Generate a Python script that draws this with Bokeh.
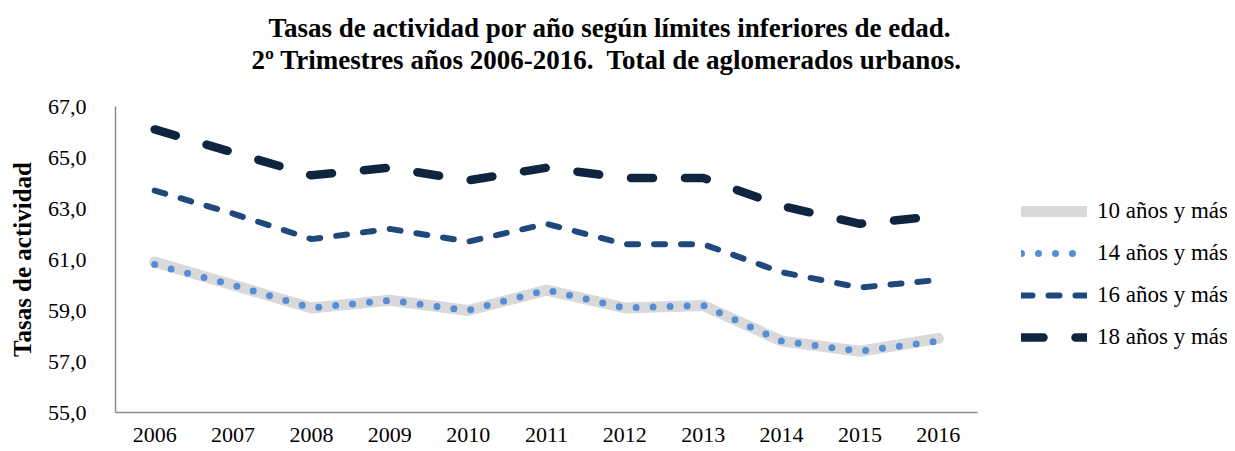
from bokeh.plotting import figure
from bokeh.models import Legend, LegendItem, Title, FixedTicker, Range1d
from bokeh.embed import file_html
from bokeh.resources import INLINE

years = [2006, 2007, 2008, 2009, 2010, 2011, 2012, 2013, 2014, 2015, 2016]
t10 = [60.9, 60.0, 59.1, 59.4, 59.0, 59.8, 59.1, 59.2, 57.8, 57.4, 57.9]
t14 = [60.8, 60.0, 59.1, 59.4, 59.0, 59.8, 59.1, 59.2, 57.8, 57.4, 57.8]
t16 = [63.7, 62.8, 61.8, 62.2, 61.7, 62.4, 61.6, 61.6, 60.5, 59.9, 60.2]
t18 = [66.1, 65.2, 64.3, 64.6, 64.1, 64.6, 64.2, 64.2, 63.1, 62.4, 62.7]
series_names = ["10 años y más", "14 años y más", "16 años y más", "18 años y más"]
y_ticks = [55, 57, 59, 61, 63, 65, 67]
y_tick_labels = ["55,0", "57,0", "59,0", "61,0", "63,0", "65,0", "67,0"]
title_lines = ["Tasas de actividad por año según límites inferiores de edad.",
               "2º Trimestres años 2006-2016.\u00a0 Total de aglomerados urbanos."]
y_label = "Tasas de actividad"

FONT = "Liberation Serif"

# the frame spans to the right edge so the legend can sit beside the data;
# the x axis line is bounded to the data span
p = figure(width=1227, height=447, output_backend="svg", toolbar_location=None,
           x_range=Range1d(2005.5, 2019.69), y_range=Range1d(55, 67),
           min_border_left=115, min_border_right=0, min_border_top=106,
           min_border_bottom=35, title=None)
p.outline_line_color = None
p.background_fill_color = "white"
p.border_fill_color = "white"
p.xgrid.visible = False
p.ygrid.visible = False

# spacer between the title lines and the frame (added first = nearest frame)
p.add_layout(Title(text=" ", text_font=FONT, text_font_size="27px",
                   standoff=0), "above")
p.add_layout(Title(text=title_lines[1], align="left", text_font=FONT,
                   text_font_size="27px", text_font_style="bold",
                   text_color="black", standoff=0, offset=136), "above")
p.add_layout(Title(text=title_lines[0], align="left", text_font=FONT,
                   text_font_size="27px", text_font_style="bold",
                   text_color="black", standoff=0, offset=153), "above")

r10 = p.line(years, t10, line_color="#D9D9D9", line_width=11, line_cap="round", line_join="round")
r14 = p.line(years, t14, line_color="#558ED5", line_width=7, line_cap="round",
             line_join="round", line_dash="0 17")
r16 = p.line(years, t16, line_color="#1F497D", line_width=6, line_cap="round",
             line_join="round", line_dash="11 16")
r18 = p.line(years, t18, line_color="#0F243E", line_width=8.5, line_cap="round",
             line_join="round", line_dash="22 32")

for ax in (p.xaxis[0], p.yaxis[0]):
    ax.axis_line_color = "#8C8C8C"
    ax.axis_line_width = 1.5
    ax.major_tick_line_color = None
    ax.minor_tick_line_color = None
    ax.major_label_text_font = FONT
    ax.major_label_text_font_size = "22px"
    ax.major_label_text_color = "black"

p.xaxis.bounds = (2005.5, 2016.5)
p.xaxis.ticker = FixedTicker(ticks=years)
p.xaxis.major_label_overrides = {y: str(y) for y in years}
p.xaxis.major_label_standoff = 9

p.yaxis.ticker = FixedTicker(ticks=y_ticks)
p.yaxis.major_label_overrides = dict(zip(y_ticks, y_tick_labels))
p.yaxis.major_label_standoff = 23
p.yaxis.axis_label = y_label
p.yaxis.axis_label_text_font = FONT
p.yaxis.axis_label_text_font_size = "25px"
p.yaxis.axis_label_text_font_style = "bold"
p.yaxis.axis_label_text_color = "black"
p.yaxis.axis_label_standoff = 9

legend = Legend(items=[LegendItem(label=n, renderers=[r]) for n, r in
                       zip(series_names, [r10, r14, r16, r18])],
                location=(906, 61), orientation="vertical",
                glyph_width=66, glyph_height=28, label_height=28,
                label_standoff=10, spacing=14,
                label_text_font=FONT, label_text_font_size="23px",
                label_text_color="black", border_line_color=None,
                background_fill_alpha=0, padding=0, margin=0)
p.add_layout(legend, "center")

open("out.html", "w").write(file_html(p, INLINE))
